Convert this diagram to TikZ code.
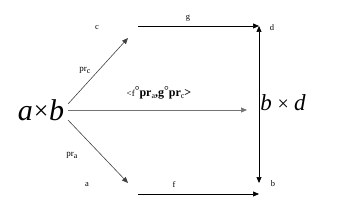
\documentclass[tikz,border=0pt]{standalone}
\usepackage{fontspec}
\setmainfont{Liberation Serif}
\usetikzlibrary{arrows.meta}
\newcommand{\fsz}[1]{\fontsize{#1}{#1}\selectfont}
\begin{document}
\begin{tikzpicture}[x=1pt,y=-1pt,
  every node/.style={inner sep=0pt,outer sep=0pt},
  small/.style={font=\fsz{8.5}},
  arr/.style={-{Triangle[length=6pt,width=5pt]},line width=0.7pt,black},
  grayarr/.style={-{Triangle[length=6pt,width=5pt]},line width=0.7pt,black!55},
  diagarr/.style={-{Triangle[length=6pt,width=5pt]},line width=0.6pt,black!75}]
\useasboundingbox (0,0) rectangle (342,208);
% objects
\node (ab) at (41,110) {\fsz{30}\itshape a\kern1pt{\upshape\fsz{26}\raisebox{0.5pt}{×}}\kern0.5pt b};
\node[small] (c) at (97,28) {c};
\node[small] (d) at (272,28) {d};
\node[small] (a) at (87,185) {a};
\node[small] (b) at (273,184) {b};
\node (bd) at (283,103) {\fsz{23}\itshape b \upshape\fsz{20}× \itshape\fsz{23}d};
% connector ends
\coordinate (abNE) at (68,104);
\coordinate (abE) at (68,110);
\coordinate (abSE) at (68,120);
\coordinate (cT) at (128,38);
\coordinate (aT) at (128,183);
\coordinate (gS) at (138,26);
\coordinate (gE) at (259,26);
\coordinate (fS) at (138,194);
\coordinate (fE) at (259,194);
\coordinate (bdE) at (247,110);
\coordinate (vT) at (259,26);
\coordinate (vB) at (259,183);
% connectors
\draw[diagarr] (abNE) -- (cT);
\draw[diagarr] (abSE) -- (aT);
\draw[grayarr] (abE) -- (bdE);
\draw[arr] (gS) -- (gE);
\draw[arr] (fS) -- (fE);
\draw[{Triangle[length=6pt,width=5pt]}-{Triangle[length=6pt,width=5pt]},line width=0.7pt] (vB) -- (vT);
% labels
\node[small] (lg) at (188,18) {g};
\node[small] (lf) at (174,185) {f};
\node (lpc) at (85,70) {\fsz{9}pr\raisebox{-2pt}{\fsz{8}c}};
\node (lpa) at (72,155) {\fsz{9}pr\raisebox{-2pt}{\fsz{8}a}};
\node (lmid) at (159,93) {{\fsz{9}<f}\raisebox{2pt}{\fsz{12}°}{\fsz{12}\bfseries pr}\raisebox{-1.5pt}{\fsz{8}a}{\fsz{12}\bfseries ,g}\raisebox{2pt}{\fsz{12}°}{\fsz{12}\bfseries pr}\raisebox{-1.5pt}{\fsz{8}c}{\fsz{12}\bfseries >}};
\end{tikzpicture}
\end{document}
